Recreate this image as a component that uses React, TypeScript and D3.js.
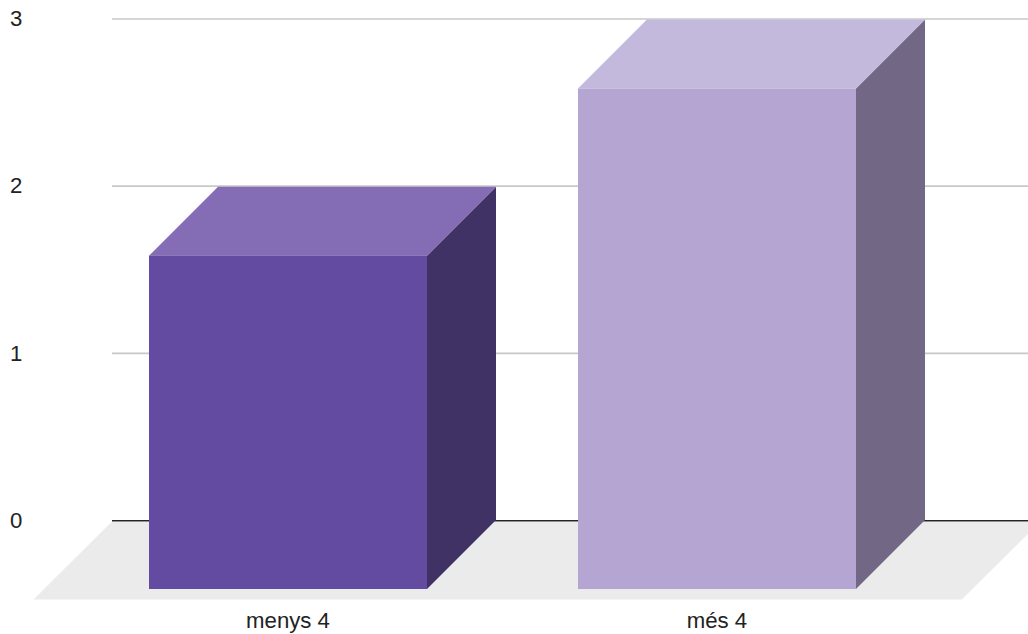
import React from "react";
import * as d3 from "d3";

const categories = ["menys 4", "més 4"];
const values = [2, 3];
const yTicks = [0, 1, 2, 3];
const frontColors = ["#634ba2", "#b4a5d2"];
const topColors = ["#846db5", "#c3b9dc"];
const sideColors = ["#413266", "#736786"];

const WIDTH = 1028;
const HEIGHT = 634;
const FONT = "Arial, 'Liberation Sans', sans-serif";

export default function App() {
  const y = d3.scaleLinear().domain([0, 3]).range([521, 19.5]);
  const x = d3
    .scaleBand<string>()
    .domain(categories)
    .range([73.5, 931.5])
    .paddingInner(0.352)
    .paddingOuter(0.176);
  const depth = 69;
  const base = y(0);
  const floorPath = d3.path();
  floorPath.moveTo(111.5, base + 1);
  floorPath.lineTo(1040, base + 1);
  floorPath.lineTo(961.8, 599.5);
  floorPath.lineTo(33.5, 599.5);
  floorPath.closePath();
  const poly = (pts: [number, number][]) => {
    const p = d3.path();
    pts.forEach(([a, b], i) => (i ? p.lineTo(a, b) : p.moveTo(a, b)));
    p.closePath();
    return p.toString();
  };
  return (
    <svg
      width={WIDTH}
      height={HEIGHT}
      style={{ position: "absolute", left: 0, top: 0, background: "#fff" }}
      fontFamily={FONT}
    >
      {yTicks.filter((t) => t > 0).map((t) => (
        <line key={t} x1={112} x2={WIDTH} y1={y(t) - 0.5} y2={y(t) - 0.5} stroke="#c8c8c8" strokeWidth={1.6} />
      ))}
      <line x1={112} x2={WIDTH} y1={base - 0.2} y2={base - 0.2} stroke="#222222" strokeWidth={1.6} />
      <path d={floorPath.toString()} fill="#ebebeb" />
      {categories.map((c, i) => {
        const x0 = x(c)!;
        const x1 = x0 + x.bandwidth();
        const top = y(values[i]) + depth;
        const bottom = base + depth - 1;
        return (
          <g key={c}>
            <path
              d={poly([[x1, top], [x1 + depth, top - depth], [x1 + depth, bottom - depth], [x1, bottom]])}
              fill={sideColors[i]}
            />
            <path
              d={poly([[x0, top], [x0 + depth, top - depth], [x1 + depth, top - depth], [x1, top]])}
              fill={topColors[i]}
            />
            <rect x={x0} y={top} width={x.bandwidth()} height={bottom - top} fill={frontColors[i]} />
            <text x={(x0 + x1) / 2} y={628} textAnchor="middle" fontSize={22.2} fill="#222222">
              {c}
            </text>
          </g>
        );
      })}
      {yTicks.map((t) => (
        <text key={t} x={10} y={y(t) + 6.7} fontSize={22.2} fill="#222222">
          {t}
        </text>
      ))}
    </svg>
  );
}
